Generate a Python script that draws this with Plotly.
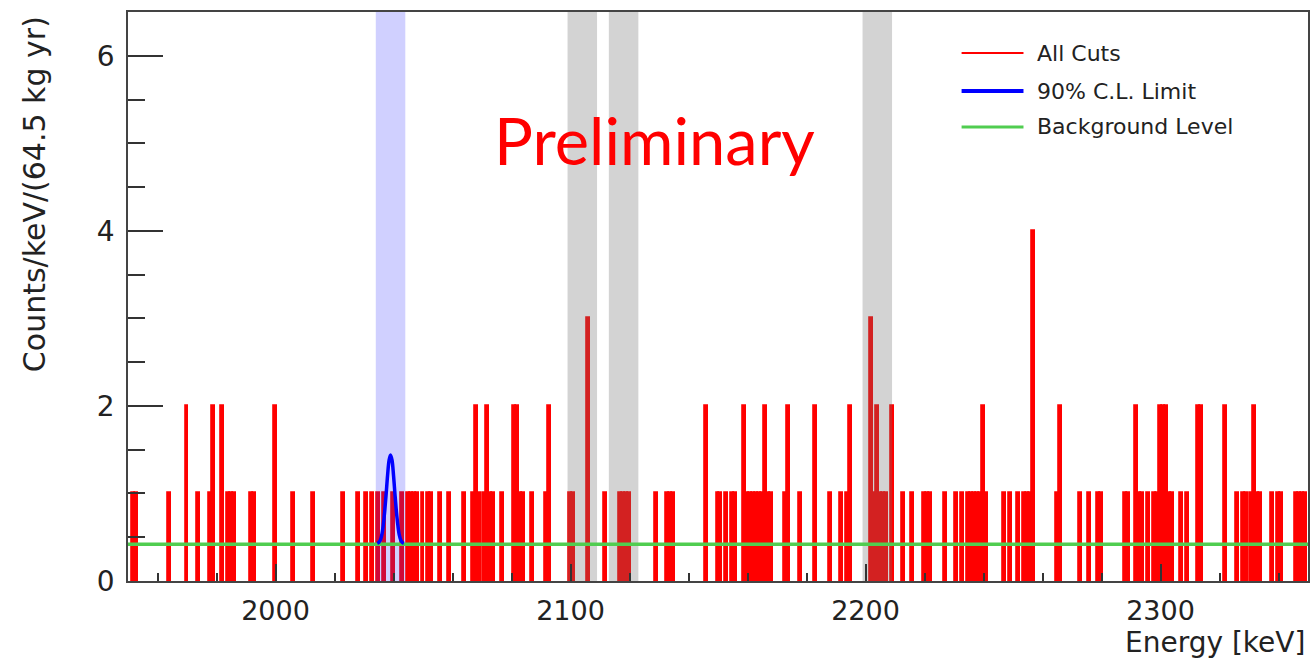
import plotly.graph_objects as go

# Energy spectrum after all cuts: 1 keV bins (bin centre, counts)
energy_kev = [
    1952, 1953, 1964, 1970, 1974, 1978, 1979, 1982, 1984, 1985, 1986, 1992, 1993,
    2000, 2006, 2013, 2023, 2028, 2031, 2033, 2035, 2037, 2040, 2043, 2045, 2046,
    2047, 2048, 2050, 2052, 2053, 2056, 2059, 2064, 2067, 2068, 2069, 2071, 2072,
    2073, 2074, 2077, 2081, 2082, 2083, 2084, 2087, 2092, 2093, 2100, 2101, 2106,
    2112, 2117, 2118, 2119, 2120, 2129, 2133, 2134, 2135, 2146, 2150, 2151, 2153,
    2155, 2156, 2159, 2160, 2161, 2162, 2163, 2164, 2165, 2166, 2167, 2168, 2173,
    2174, 2178, 2183, 2188, 2192, 2194, 2195, 2202, 2203, 2204, 2205, 2206, 2207,
    2209, 2213, 2216, 2220, 2221, 2222, 2227, 2231, 2233, 2235, 2236, 2237, 2238,
    2239, 2240, 2241, 2247, 2249, 2252, 2254, 2255, 2256, 2257, 2265, 2266, 2273,
    2276, 2279, 2280, 2288, 2289, 2292, 2293, 2294, 2296, 2298, 2299, 2300, 2301,
    2302, 2303, 2304, 2307, 2309, 2313, 2314, 2322, 2326, 2328, 2329, 2331, 2332,
    2333, 2334, 2338, 2340, 2341, 2346, 2347, 2348, 2349,
]
counts = [
    1, 1, 1, 2, 1, 1, 2, 2, 1, 1, 1, 1, 1,
    2, 1, 1, 1, 1, 1, 1, 1, 1, 1, 1, 1, 1,
    1, 1, 1, 1, 1, 1, 1, 1, 1, 2, 1, 1, 2,
    1, 1, 1, 2, 2, 1, 1, 1, 1, 2, 1, 1, 3,
    1, 1, 1, 1, 1, 1, 1, 1, 1, 2, 1, 1, 1,
    1, 1, 2, 1, 1, 1, 1, 1, 1, 2, 1, 1, 1,
    2, 1, 2, 1, 1, 1, 2, 3, 1, 2, 1, 1, 1,
    2, 1, 1, 1, 1, 1, 1, 1, 1, 1, 1, 1, 1,
    1, 2, 1, 1, 1, 1, 1, 1, 1, 4, 1, 2, 1,
    1, 1, 1, 1, 1, 2, 1, 1, 1, 1, 1, 2, 2,
    2, 1, 1, 1, 1, 2, 2, 2, 1, 1, 1, 1, 2,
    1, 1, 1, 1, 1, 1, 1, 1, 1,
]

# 90% C.L. limit peak shape at Q_bb
limit_x = [2034.5, 2035, 2035.5, 2036, 2036.5, 2037, 2037.5, 2038, 2038.5, 2039,
           2039.5, 2040, 2040.5, 2041, 2041.5, 2042, 2042.5, 2043, 2043.5]
limit_y = [0.43, 0.44, 0.465, 0.52, 0.63, 0.79, 0.99, 1.21, 1.38, 1.44,
           1.38, 1.21, 0.99, 0.79, 0.63, 0.52, 0.465, 0.44, 0.43]

background_level = 0.42
energy_range = [1950, 2350]

# Windows: signal region and excluded gamma lines
signal_window = [2034, 2044]
gamma_windows = [[2099, 2109], [2113, 2123], [2199, 2209]]
y_top = 6.5

FONT = "DejaVu Sans"
L, R, T, B = 128, 2, 12, 79
W, H = 1312, 660
PW, PH = W - L - R, H - T - B


def px(xp):
    return (xp - L) / PW


def py(yp):
    return (H - B - yp) / PH


fig = go.Figure()

fig.add_trace(go.Bar(
    x=energy_kev, y=counts, width=1,
    marker=dict(color="#ff0000", line=dict(color="#ff0000", width=1.8)),
    showlegend=False,
))

# shaded windows
def band(lo, hi, color):
    fig.add_trace(go.Scatter(
        x=[lo, hi, hi, lo, lo], y=[0, 0, y_top, y_top, 0],
        fill="toself", fillcolor=color, mode="lines",
        line=dict(width=0), hoverinfo="skip", showlegend=False,
    ))

band(signal_window[0], signal_window[1], "rgba(40,40,255,0.22)")
for lo, hi in gamma_windows:
    band(lo, hi, "rgba(110,110,110,0.30)")

fig.add_trace(go.Scatter(
    x=energy_range, y=[background_level, background_level], mode="lines",
    line=dict(color="rgb(80,205,80)", width=3.5), showlegend=False,
))
fig.add_trace(go.Scatter(
    x=limit_x, y=limit_y, mode="lines", line_shape="spline",
    line=dict(color="#0000ff", width=3.5), showlegend=False,
))

fig.update_layout(
    width=W, height=H,
    margin=dict(l=L, r=R, t=T, b=B),
    paper_bgcolor="white", plot_bgcolor="white",
    bargap=0,
    font=dict(family=FONT, color="#222"),
)
fig.update_xaxes(
    range=energy_range, showgrid=False, zeroline=False,
    showline=True, linecolor="#444", linewidth=1.5, mirror=True,
    ticks="inside", ticklen=17, tickwidth=1.5, tickcolor="#333",
    dtick=100, tick0=2000, tickfont=dict(size=27, family=FONT),
    minor=dict(ticks="inside", ticklen=8, dtick=20, tickcolor="#333", tickwidth=1.5),
    ticklabelstandoff=5,
)
fig.update_yaxes(
    range=[0, y_top], showgrid=False, zeroline=False,
    showline=True, linecolor="#444", linewidth=1.5, mirror=True,
    ticks="inside", ticklen=35, tickwidth=1.5, tickcolor="#333",
    dtick=2, tick0=0, tickfont=dict(size=28, family=FONT),
    minor=dict(ticks="inside", ticklen=17, dtick=0.5, tickcolor="#333", tickwidth=1.5),
    ticklabelstandoff=6,
)

# axis titles
fig.add_annotation(
    text="Counts/keV/(64.5 kg yr)", textangle=-90,
    xref="paper", yref="paper", x=px(34), y=py(14),
    xanchor="center", yanchor="top", showarrow=False,
    font=dict(size=30, family=FONT, color="#222"),
)
fig.add_annotation(
    text="Energy [keV]", xref="paper", yref="paper",
    x=px(1309), y=py(642), xanchor="right", yanchor="middle", showarrow=False,
    font=dict(size=28, family=FONT, color="#222"),
)

# watermark
fig.add_annotation(
    text="Preliminary", xref="paper", yref="paper",
    x=px(655), y=py(140), xanchor="center", yanchor="middle", showarrow=False,
    font=dict(size=65, family="Lato", color="#ff0000"),
)

# legend
legend_rows = [
    ("All Cuts", "#ff0000", 2, 53),
    ("90% C.L. Limit", "#0000ff", 4, 91),
    ("Background Level", "rgb(80,205,80)", 3, 127),
]
for label, color, lw, yp in legend_rows:
    fig.add_shape(type="line", xref="paper", yref="paper",
                  x0=px(963), x1=px(1025), y0=py(yp), y1=py(yp),
                  line=dict(color=color, width=lw))
    fig.add_annotation(text=label, xref="paper", yref="paper",
                       x=px(1037), y=py(yp), xanchor="left", yanchor="middle",
                       showarrow=False, font=dict(size=22, family=FONT, color="#222"))

fig.write_html("out.html")
